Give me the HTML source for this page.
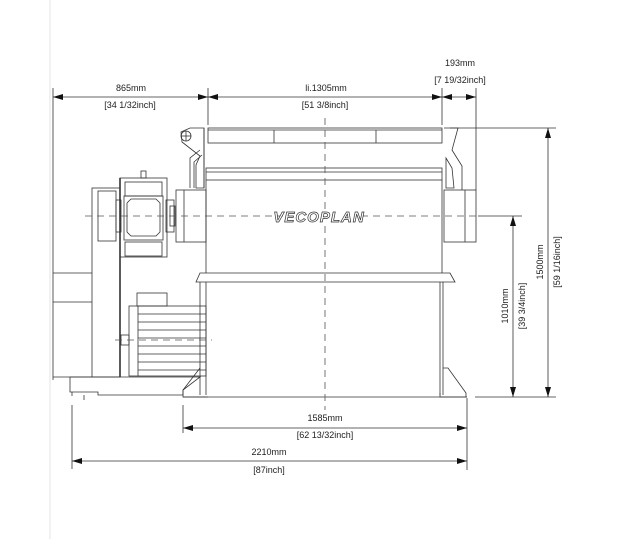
<!DOCTYPE html>
<html><head><style>
html,body{margin:0;padding:0;background:#fff;}
svg{display:block;}
text{font-family:"Liberation Sans",sans-serif;font-size:9px;fill:#222;}
</style></head><body>
<svg width="622" height="539" viewBox="0 0 622 539" xmlns="http://www.w3.org/2000/svg">
<defs>
<marker id="a" viewBox="0 0 10 6" refX="10" refY="3" markerWidth="10" markerHeight="6" orient="auto-start-reverse" markerUnits="userSpaceOnUse"><path d="M0,0 L10,3 L0,6 z" fill="#111"/></marker>
</defs>
<g stroke="#333" stroke-width="0.8" fill="none">
<!-- faint page border -->
<line x1="50" y1="0" x2="50" y2="539" stroke="#ddd"/>
<!-- top dims extension lines -->
<line x1="53" y1="88" x2="53" y2="380"/>
<line x1="208" y1="88" x2="208" y2="125"/>
<line x1="442" y1="88" x2="442" y2="125"/>
<line x1="476" y1="88" x2="476" y2="190"/>
<line x1="53" y1="97" x2="208" y2="97" marker-start="url(#a)" marker-end="url(#a)"/>
<line x1="208" y1="97" x2="430" y2="97" marker-start="url(#a)"/>
<line x1="430" y1="97" x2="442" y2="97" marker-end="url(#a)"/>
<line x1="442" y1="97" x2="476" y2="97" marker-start="url(#a)" marker-end="url(#a)"/>
<!-- right dims -->
<line x1="450" y1="128" x2="556" y2="128"/>
<line x1="475" y1="397" x2="556" y2="397"/>
<line x1="478" y1="216" x2="522" y2="216"/>
<line x1="548" y1="128" x2="548" y2="397" marker-start="url(#a)" marker-end="url(#a)"/>
<line x1="513" y1="216" x2="513" y2="397" marker-start="url(#a)" marker-end="url(#a)"/>
<!-- bottom dims -->
<line x1="183" y1="405" x2="183" y2="433"/>
<line x1="72" y1="405" x2="72" y2="469"/>
<line x1="467" y1="398" x2="467" y2="470"/>
<line x1="183" y1="428" x2="467" y2="428" marker-start="url(#a)" marker-end="url(#a)"/>
<line x1="72" y1="461" x2="467" y2="461" marker-start="url(#a)" marker-end="url(#a)"/>

<!-- hopper -->
<rect x="208" y="128" width="234" height="15"/>
<line x1="208" y1="130" x2="442" y2="130"/>
<line x1="274" y1="130" x2="274" y2="143"/>
<line x1="376" y1="130" x2="376" y2="143"/>
<rect x="206" y="168" width="236" height="12"/>
<line x1="206" y1="172" x2="442" y2="172"/>
<!-- left pivot arm -->
<circle cx="186" cy="136" r="5"/>
<line x1="181" y1="136" x2="191" y2="136"/>
<line x1="186" y1="131" x2="186" y2="141"/>
<path d="M181,132 L190,128 L204,128 L204,188 L196,188 L196,165 L200,156 L182,142 Z"/>
<path d="M190,188 L190,158 L200,150 M194,188 L194,162 L202,155"/>
<line x1="204" y1="128" x2="204" y2="188"/>
<!-- right side arm -->
<path d="M444,128 L458,128 L452,150 L462,166 L462,190"/>
<path d="M446,158 L452,168 L454,188 L446,188 Z"/>
<!-- upper body -->
<line x1="206" y1="180" x2="206" y2="273"/>
<line x1="442" y1="180" x2="442" y2="273"/>
<!-- couplings -->
<rect x="176" y="190" width="30" height="52"/>
<line x1="184" y1="190" x2="184" y2="242"/>
<rect x="444" y="190" width="32" height="52"/>
<line x1="465" y1="190" x2="465" y2="242"/>
<rect x="166" y="200" width="8" height="32"/>
<rect x="170" y="206" width="5" height="20"/>
<!-- gearbox -->
<rect x="120" y="178" width="47" height="79"/>
<rect x="125" y="182" width="37" height="14"/>
<rect x="141" y="171" width="5" height="7"/>
<rect x="124" y="196" width="39" height="44"/>
<path d="M131,199 L156,199 L160,203 L160,232 L156,236 L131,236 L127,232 L127,203 Z"/>
<rect x="125" y="242" width="37" height="14"/>
<rect x="116" y="200" width="5" height="32"/>
<!-- left pulley/frame -->
<rect x="92" y="188" width="28" height="189"/>
<rect x="98" y="191" width="18" height="50"/>
<line x1="120" y1="178" x2="120" y2="377" stroke-width="1.6"/>
<line x1="53" y1="273" x2="92" y2="273"/>
<line x1="53" y1="302" x2="92" y2="302"/>
<line x1="53" y1="377" x2="92" y2="377"/>
<!-- motor -->
<rect x="137" y="293" width="30" height="13"/>
<rect x="129" y="306" width="77" height="70"/>
<line x1="138" y1="306" x2="138" y2="376"/>
<line x1="138" y1="314" x2="206" y2="314"/>
<line x1="138" y1="322" x2="206" y2="322"/>
<line x1="138" y1="330" x2="206" y2="330"/>
<line x1="138" y1="338" x2="206" y2="338"/>
<line x1="138" y1="346" x2="206" y2="346"/>
<line x1="138" y1="354" x2="206" y2="354"/>
<line x1="138" y1="362" x2="206" y2="362"/>
<line x1="138" y1="370" x2="206" y2="370"/>
<rect x="121" y="335" width="8" height="10"/>
<!-- base -->
<path d="M70,377 L200,377 L183,390 L183,395 L98,395 L98,392 L70,392 Z"/>
<line x1="72" y1="392" x2="72" y2="396"/>
<line x1="84" y1="395" x2="84" y2="400"/>
<!-- lower body -->
<path d="M196,282 L200,273 L450,273 L455,282 Z"/>
<line x1="200" y1="282" x2="200" y2="395"/>
<line x1="206" y1="282" x2="206" y2="395"/>
<line x1="440" y1="282" x2="440" y2="395"/>
<line x1="443" y1="282" x2="443" y2="395"/>
<path d="M200,368 L183,390 L183,397 L208,397"/>
<path d="M443,368 L448,368 L466,393 L466,397 L440,397 L440,393"/>
<line x1="183" y1="397" x2="467" y2="397"/>
</g>
<!-- center lines -->
<g stroke="#555" stroke-width="0.8" stroke-dasharray="7,5" fill="none">
<line x1="85" y1="216" x2="478" y2="216"/>
<line x1="325" y1="118" x2="325" y2="410"/>
<line x1="115" y1="340" x2="212" y2="340"/>
</g>
<!-- logo -->
<rect x="283" y="209" width="72" height="14" fill="#fff" stroke="none"/>
<text x="319" y="222" text-anchor="middle" style="font-size:15px;font-style:italic;font-weight:bold;fill:#fff;stroke:#333;stroke-width:0.7;letter-spacing:1px">VECOPLAN</text>
<!-- labels -->
<text x="131" y="91" text-anchor="middle">865mm</text>
<text x="130" y="108" text-anchor="middle">[34 1/32inch]</text>
<text x="326" y="91" text-anchor="middle">li.1305mm</text>
<text x="325" y="108" text-anchor="middle">[51 3/8inch]</text>
<text x="460" y="66" text-anchor="middle">193mm</text>
<text x="460" y="83" text-anchor="middle">[7 19/32inch]</text>
<text x="325" y="421" text-anchor="middle">1585mm</text>
<text x="325" y="438" text-anchor="middle">[62 13/32inch]</text>
<text x="269" y="455" text-anchor="middle">2210mm</text>
<text x="269" y="473" text-anchor="middle">[87inch]</text>
<text transform="translate(508,306) rotate(-90)" text-anchor="middle">1010mm</text>
<text transform="translate(525,306) rotate(-90)" text-anchor="middle">[39 3/4inch]</text>
<text transform="translate(543,262) rotate(-90)" text-anchor="middle">1500mm</text>
<text transform="translate(560,262) rotate(-90)" text-anchor="middle">[59 1/16inch]</text>
</svg>
</body></html>
